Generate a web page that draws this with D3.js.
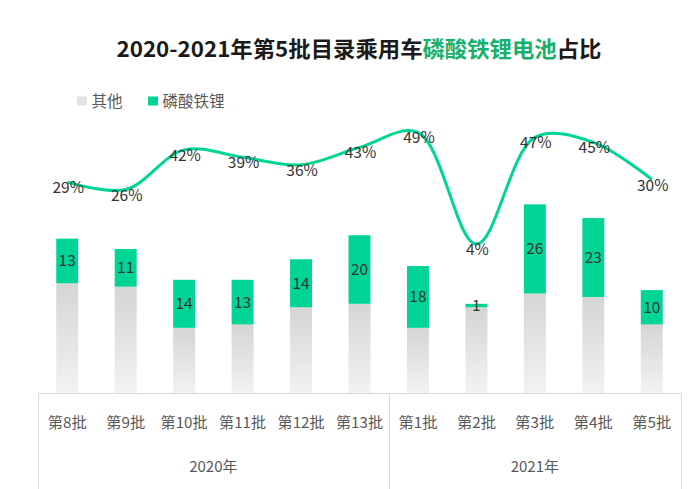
<!DOCTYPE html>
<html>
<head>
<meta charset="utf-8">
<script src="https://cdn.jsdelivr.net/npm/d3@7"></script>
<style>
  html, body { margin: 0; padding: 0; background: #fff; }
  svg { display: block; font-family: "Noto Sans CJK SC", "Noto Sans", sans-serif; }
</style>
</head>
<body>
<svg id="chart" width="700" height="489"></svg>
<script>
// ---- data ----
const categories = ["第8批", "第9批", "第10批", "第11批", "第12批", "第13批", "第1批", "第2批", "第3批", "第4批", "第5批"];
const years = ["2020年", "2021年"];
const yearCounts = [6, 5];
const otherValues = [32, 31, 19, 20, 25, 26, 19, 25, 29, 28, 20];
const lfpValues = [13, 11, 14, 13, 14, 20, 18, 1, 26, 23, 10];
const lfpShare = [29, 26, 42, 39, 36, 43, 49, 4, 47, 45, 30];
const legendLabels = ["其他", "磷酸铁锂"];

// ---- layout ----
const svg = d3.select("#chart");
const W = 700, H = 489;
const x0 = 38, x1 = 681, baseY = 393;
const green = "#00d596";

const defs = svg.append("defs");
const grad = defs.append("linearGradient").attr("id", "grayGrad")
  .attr("x1", 0).attr("y1", 0).attr("x2", 0).attr("y2", 1);
grad.append("stop").attr("offset", "0%").attr("stop-color", "#d5d5d5");
grad.append("stop").attr("offset", "100%").attr("stop-color", "#f2f2f2");

// title
const title = svg.append("text")
  .attr("x", 359).attr("y", 57)
  .attr("text-anchor", "middle")
  .attr("font-size", 21.5).attr("font-weight", "bold").attr("fill", "#1a1a1a")
  .attr("textLength", 485).attr("lengthAdjust", "spacingAndGlyphs");
title.append("tspan").text("2020-2021年第5批目录乘用车");
title.append("tspan").attr("fill", "#17b06c").text("磷酸铁锂电池");
title.append("tspan").text("占比");

// legend
const legendColors = ["#e3e3e3", green];
const legendX = [77, 148];
legendLabels.forEach((lab, i) => {
  svg.append("rect").attr("x", legendX[i]).attr("y", 96.5).attr("width", 10).attr("height", 9)
    .attr("fill", legendColors[i]);
  svg.append("text").attr("x", legendX[i] + 14.5).attr("y", 107)
    .attr("font-size", 15.5).attr("fill", "#595959").text(lab);
});

// scales
const x = d3.scaleBand().domain(categories).range([x0, x1]).paddingInner(0.624).paddingOuter(0.312);
const xc = d3.scaleBand().domain(categories).range([x0, x1]);
const y = d3.scaleLinear().domain([0, 60]).range([baseY, baseY - 60 * 3.43]);
const yp = d3.scaleLinear().domain([0, 50]).range([254, 130]);

const data = categories.map((c, i) => ({ c, other: otherValues[i], lfp: lfpValues[i], share: lfpShare[i] }));

// bars
const g = svg.append("g");
g.selectAll("rect.other").data(data).enter().append("rect")
  .attr("class", "other")
  .attr("x", d => x(d.c)).attr("width", x.bandwidth())
  .attr("y", d => y(d.other)).attr("height", d => y(0) - y(d.other))
  .attr("fill", "url(#grayGrad)");
g.selectAll("rect.lfp").data(data).enter().append("rect")
  .attr("class", "lfp")
  .attr("x", d => x(d.c)).attr("width", x.bandwidth())
  .attr("y", d => y(d.other + d.lfp)).attr("height", d => y(d.other) - y(d.other + d.lfp))
  .attr("fill", green);
g.selectAll("text.val").data(data).enter().append("text")
  .attr("class", "val")
  .attr("x", d => xc(d.c) + xc.bandwidth() / 2)
  .attr("y", d => (y(d.other) + y(d.other + d.lfp)) / 2 + 5.5)
  .attr("text-anchor", "middle").attr("font-size", 15.5).attr("fill", "#333")
  .text(d => d.lfp);

// axis box
const axisG = svg.append("g").attr("stroke", "#d9d9d9").attr("stroke-width", 1);
axisG.append("line").attr("x1", x0).attr("x2", x1).attr("y1", baseY + 0.5).attr("y2", baseY + 0.5);
let acc = 0;
const bounds = [0];
yearCounts.forEach(n => { acc += n; bounds.push(acc); });
bounds.forEach(b => {
  const bx = b === categories.length ? x1 : xc(categories[b]);
  axisG.append("line").attr("x1", Math.round(bx) + 0.5).attr("x2", Math.round(bx) + 0.5)
    .attr("y1", baseY).attr("y2", H);
});

// category labels
svg.append("g").selectAll("text").data(categories).enter().append("text")
  .attr("x", d => xc(d) + xc.bandwidth() / 2).attr("y", 428)
  .attr("text-anchor", "middle").attr("font-size", 15).attr("fill", "#595959")
  .attr("textLength", d => d.length > 3 ? 47 : 39).attr("lengthAdjust", "spacingAndGlyphs")
  .text(d => d);

// year labels
years.forEach((yr, i) => {
  const a = xc(categories[bounds[i]]);
  const b = bounds[i + 1] === categories.length ? x1 : xc(categories[bounds[i + 1]]);
  svg.append("text").attr("x", (a + b) / 2).attr("y", 472)
    .attr("text-anchor", "middle").attr("font-size", 15).attr("fill", "#595959")
    .text(yr);
});

// share line
const line = d3.line()
  .x(d => xc(d.c) + xc.bandwidth() / 2)
  .y(d => yp(d.share))
  .curve(d3.curveCatmullRom.alpha(0.5));
svg.append("path").datum(data).attr("d", line)
  .attr("fill", "none").attr("stroke", green).attr("stroke-width", 3);

svg.append("g").selectAll("text").data(data).enter().append("text")
  .attr("x", d => xc(d.c) + xc.bandwidth() / 2 + 1)
  .attr("y", d => yp(d.share) + 11)
  .attr("text-anchor", "middle").attr("font-size", 15.5).attr("fill", "#333")
  .text(d => d.share + "%");
</script>
</body>
</html>
